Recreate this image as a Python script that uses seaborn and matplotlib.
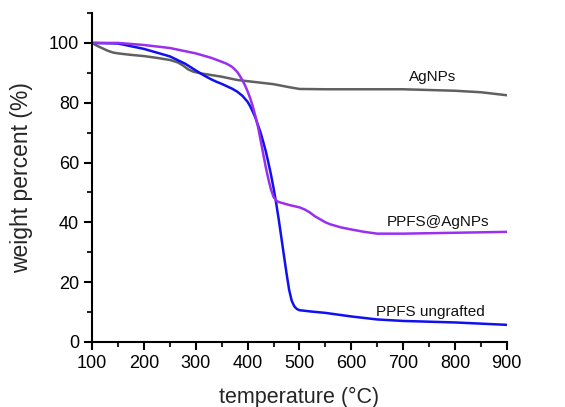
import numpy as np
import pandas as pd
import matplotlib
matplotlib.use("Agg")
import matplotlib.pyplot as plt
import seaborn as sns
from matplotlib.ticker import MultipleLocator

# Data
ag_T = [100, 110, 120, 130, 140, 150, 175, 200, 225, 250, 265, 275, 285, 295, 310, 350, 380, 400, 450, 480, 500,
        550, 600, 700, 800, 850, 900]
ag_W = [100, 99, 98.2, 97.4, 96.8, 96.5, 96, 95.6, 95, 94.3, 93.5, 92.5, 91.2, 90.4, 89.8, 88.7, 87.6, 87.2, 86.2, 85.2, 84.6,
        84.5, 84.5, 84.5, 84, 83.5, 82.5]

pp_T = [100, 150, 200, 250, 280, 300, 315, 330, 340, 350, 360, 370, 380, 390, 400, 405, 410, 415, 420, 425, 430, 435,
        440, 445, 450, 455, 460, 465, 470, 475, 480, 485, 490, 495, 500, 520, 550, 600, 650, 700, 800, 900]
pp_W = [100, 99.8, 98, 95.5, 93, 90.8, 89.2, 87.8, 87, 86.3, 85.5, 84.7, 83.7, 82.3, 80.3, 78.8, 77, 75, 72.5, 70, 67, 63.8,
        60, 56, 51.5, 46.5, 41, 35, 29, 23, 17.5, 13.8, 11.9, 11, 10.6, 10.2, 9.7, 8.5, 7.5, 7, 6.5, 5.7]

pa_T = [100, 150, 200, 250, 300, 330, 350, 360, 370, 375, 380, 385, 390, 395, 400, 405, 410, 415, 420, 425, 430, 435,
        440, 445, 450, 455, 460, 470, 480, 500, 510, 520, 530, 540, 550, 560, 580, 600, 625, 650, 700, 800, 900]
pa_W = [100, 100, 99.3, 98.3, 96.5, 95, 93.7, 93, 92, 91.2, 90.3, 89, 87.5, 85.8, 83.8, 81.5, 78.8, 75.5, 72, 67.5, 63, 58.5,
        54.5, 51, 48.5, 47.3, 46.8, 46.3, 45.8, 45, 44.3, 43.3, 42, 41, 40, 39.3, 38.3, 37.6, 36.8, 36.2, 36.2, 36.5, 36.8]

labels = ["AgNPs", "PPFS ungrafted", "PPFS@AgNPs"]
colors = ["#606060", "#1010f0", "#9a2ff0"]
label_pos = [(757, 88.5), (752, 10), (767, 40)]

x_ticks = [100, 200, 300, 400, 500, 600, 700, 800, 900]
y_ticks = [0, 20, 40, 60, 80, 100]

sns.set_theme(style="white")
plt.rcParams['font.family'] = ['Liberation Sans', 'DejaVu Sans']

fig = plt.figure(figsize=(5.65, 4.07), dpi=100)
ax = fig.add_axes([0.163, 0.16, 0.734, 0.808])

series = [(ag_T, ag_W), (pp_T, pp_W), (pa_T, pa_W)]
for (T, W), lab, c in zip(series, labels, colors):
    df = pd.DataFrame({"T": T, "W": W})
    sns.lineplot(data=df, x="T", y="W", ax=ax, color=c, linewidth=1.8, estimator=None)

for lab, (x, y) in zip(labels, label_pos):
    ax.text(x, y, lab, ha="center", va="center", fontsize=11, color="#111111")

ax.set_xlim(100, 900)
ax.set_ylim(0, 110)
ax.set_xticks(x_ticks)
ax.set_yticks(y_ticks)
ax.xaxis.set_minor_locator(MultipleLocator(50))
ax.yaxis.set_minor_locator(MultipleLocator(10))
ax.tick_params(which="major", direction="out", length=6, width=1.5, labelsize=13, colors="black", bottom=True, left=True)
ax.tick_params(which="minor", direction="out", length=3.5, width=1.5, bottom=True, left=True)
for s in ["top", "right"]:
    ax.spines[s].set_visible(False)
for s in ["left", "bottom"]:
    ax.spines[s].set_color("black")
    ax.spines[s].set_linewidth(1.5)

ax.set_xlabel("temperature (\u00b0C)", fontsize=15.5, labelpad=11)
ax.set_ylabel("weight percent (%)", fontsize=16.5, labelpad=11)

fig.savefig("out.png", dpi=100)
